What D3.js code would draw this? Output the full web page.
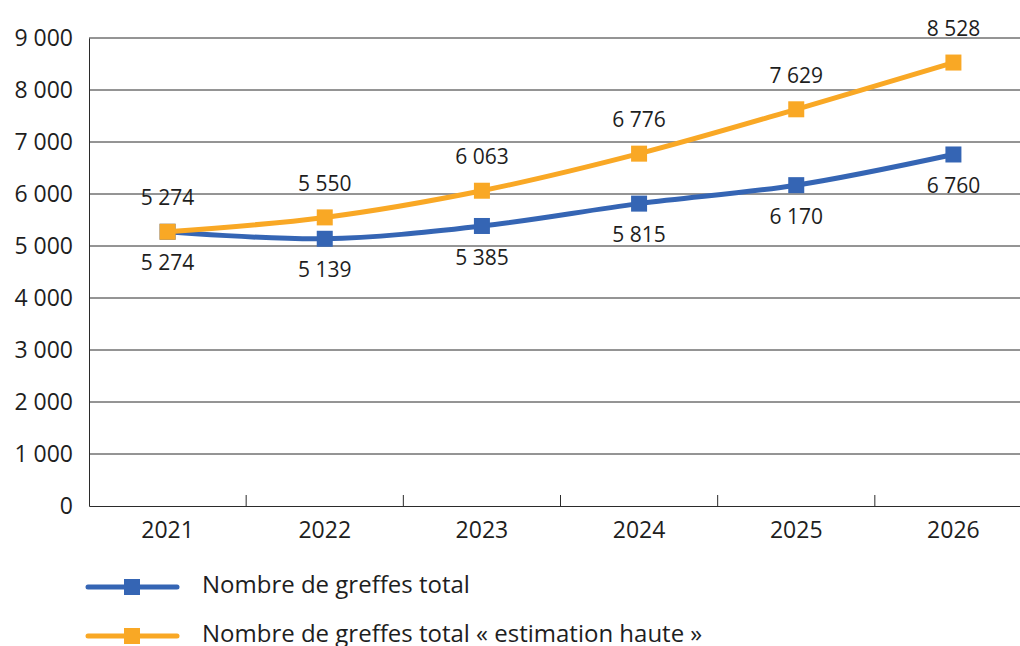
<!DOCTYPE html>
<html>
<head>
<meta charset="utf-8">
<script src="https://cdn.jsdelivr.net/npm/d3@7"></script>
<style>
  body { margin: 0; background: #fff; }
  svg text { font-family: "Open Sans", "Noto Sans", sans-serif; fill: #1e1e1e; font-weight: 500; }
</style>
</head>
<body>
<div id="chart"></div>
<script>
const years = ["2021", "2022", "2023", "2024", "2025", "2026"];
const totalGreffes = [5274, 5139, 5385, 5815, 6170, 6760];
const hauteGreffes = [5274, 5550, 6063, 6776, 7629, 8528];
const yTicks = [0, 1000, 2000, 3000, 4000, 5000, 6000, 7000, 8000, 9000];
const seriesNames = ["Nombre de greffes total", "Nombre de greffes total « estimation haute »"];

const blue = "#3565b4";
const orange = "#f9a825";
const fmt = v => d3.format(",")(v).replace(/,/g, " ");

const width = 1020, height = 646;
const margin = { top: 38, right: -12, bottom: 140, left: 89 };
const innerW = width - margin.left - margin.right;
const innerH = height - margin.top - margin.bottom;

const svg = d3.select("#chart").append("svg")
  .attr("width", width).attr("height", height);
const g = svg.append("g").attr("transform", `translate(${margin.left},${margin.top})`);

const x = d3.scaleBand().domain(years).range([0, innerW]);
const y = d3.scaleLinear().domain([0, 9000]).range([innerH, 0]);

// gridlines
g.append("g").selectAll("line").data(yTicks.filter(d => d > 0)).join("line")
  .attr("x1", 0).attr("x2", innerW)
  .attr("y1", d => y(d)).attr("y2", d => y(d))
  .attr("stroke", "#2b2b2b").attr("stroke-width", 1);

// y axis
const yAxis = g.append("g").call(d3.axisLeft(y).tickValues(yTicks).tickSize(0).tickPadding(16).tickFormat(fmt));
yAxis.select(".domain").attr("stroke", "#2b2b2b");
yAxis.selectAll("text").attr("font-size", 23).style("fill", "#1e1e1e");

// x axis
const xAxis = g.append("g").attr("transform", `translate(0,${innerH})`)
  .call(d3.axisBottom(x).tickSize(0).tickPadding(16));
xAxis.select(".domain").attr("stroke", "#2b2b2b");
xAxis.selectAll("text").attr("font-size", 23).style("fill", "#1e1e1e");
g.append("g").selectAll("line").data(years.slice(1)).join("line")
  .attr("x1", d => x(d)).attr("x2", d => x(d))
  .attr("y1", innerH).attr("y2", innerH - 11)
  .attr("stroke", "#2b2b2b");

const cx = d => x(d) + x.bandwidth() / 2;
const line = d3.line().x(d => cx(d.year)).y(d => y(d.v)).curve(d3.curveCatmullRom);

function drawSeries(values, color, dy) {
  const pts = years.map((yr, i) => ({ year: yr, v: values[i] }));
  g.append("path").datum(pts).attr("d", line)
    .attr("fill", "none").attr("stroke", color).attr("stroke-width", 5);
  g.append("g").selectAll("rect").data(pts).join("rect")
    .attr("x", d => cx(d.year) - 8).attr("y", d => y(d.v) - 8)
    .attr("width", 16).attr("height", 16).attr("fill", color);
  g.append("g").selectAll("text").data(pts).join("text")
    .attr("x", d => cx(d.year)).attr("y", d => y(d.v) + dy)
    .attr("text-anchor", "middle").attr("dominant-baseline", "middle")
    .attr("font-size", 21).text(d => fmt(d.v));
}
drawSeries(totalGreffes, blue, 33);
drawSeries(hauteGreffes, orange, -32);

// legend
const legend = svg.append("g");
[blue, orange].forEach((c, i) => {
  const ly = 587 + i * 49;
  legend.append("line").attr("x1", 88).attr("x2", 177).attr("y1", ly).attr("y2", ly)
    .attr("stroke", c).attr("stroke-width", 5).attr("stroke-linecap", "round");
  legend.append("rect").attr("x", 124).attr("y", ly - 8).attr("width", 16).attr("height", 16).attr("fill", c);
  legend.append("text").attr("x", 202).attr("y", ly).attr("dominant-baseline", "middle")
    .attr("font-size", 24).text(seriesNames[i]);
});
</script>
</body>
</html>
